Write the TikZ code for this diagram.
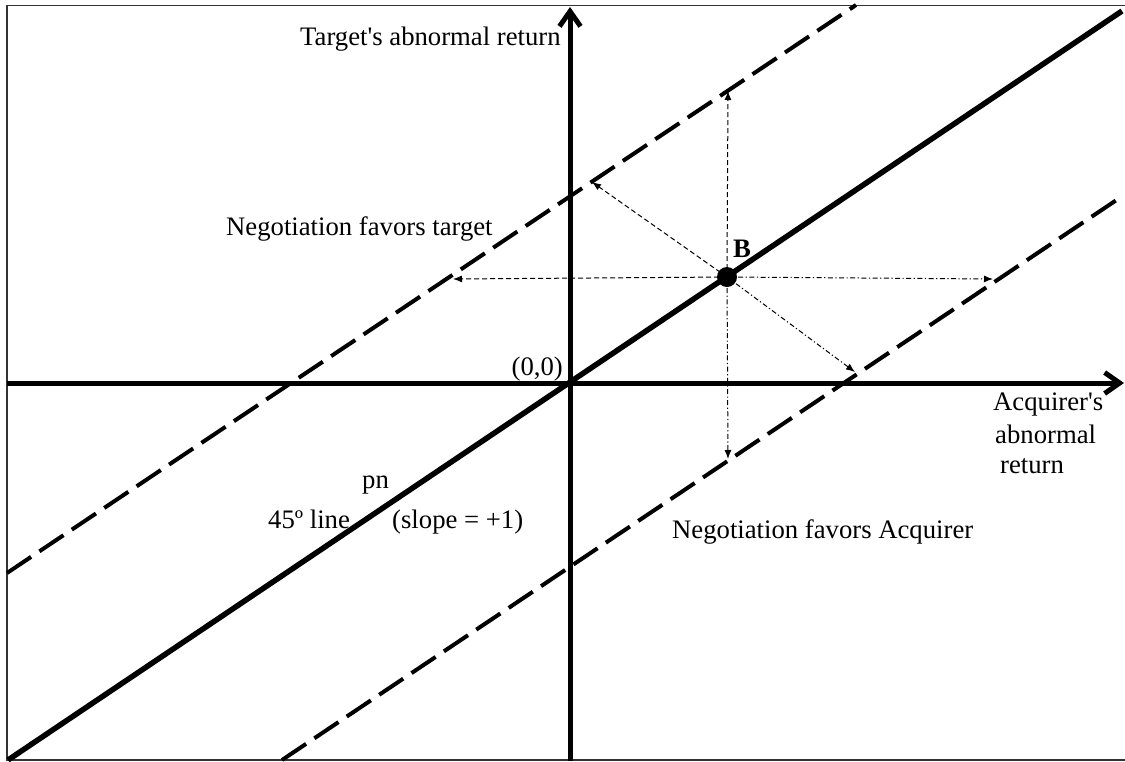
\documentclass[tikz,border=0pt]{standalone}
\usepackage{fontspec}
\setmainfont{Liberation Serif}[Ligatures=TeXOff]
\usetikzlibrary{arrows.meta}
\begin{document}
\begin{tikzpicture}[x=1pt,y=-1pt,
  frameline/.style={line width=1.6pt,draw=black!80},
  axisline/.style={line width=5pt,-{Straight Barb[length=15pt,width=21pt,line width=5pt]}},
  mainline/.style={line width=5.5pt},
  boundline/.style={line width=4pt,dash pattern=on 29pt off 10pt},
  dashedarrow/.style={line width=1pt,dash pattern=on 5pt off 3pt,-{Latex[length=9pt,width=7pt]}},
  dotdasharrow/.style={line width=1pt,dash pattern=on 5pt off 2.5pt on 1.2pt off 2.5pt,-{Latex[length=9pt,width=7pt]}},
  lbl/.style={inner sep=0pt,font=\fontsize{26.7}{32}\selectfont}
]
\useasboundingbox (0,0) rectangle (1125,761);
% frame
\coordinate (F1) at (1125,5.5);
\coordinate (F2) at (7,5.5);
\coordinate (F3) at (7,760);
\coordinate (F4) at (1125,760);
\draw[frameline] (F1) -- (F2) -- (F3) -- (F4);
% key points
\coordinate (O) at (570,383);
\coordinate (B) at (727,277);
% axes
\coordinate (YB) at (570,761);
\coordinate (YT) at (570,7);
\coordinate (XL) at (7,383);
\coordinate (XR) at (1124,383);
\draw[axisline] (YB) -- (YT);
\draw[axisline] (XL) -- (XR);
% 45 degree line
\coordinate (S1) at (8,760);
\coordinate (S2) at (1122,11);
\draw[mainline] (S1) -- (S2);
% upper bound line
\coordinate (U1) at (7,573);
\coordinate (U2) at (856,5);
\draw[boundline] (U1) -- (U2);
% lower bound line
\coordinate (L1) at (282,760);
\coordinate (L2) at (1124,195);
\draw[boundline] (L1) -- (L2);
% arrows from B
\coordinate (AU) at (728,91);
\coordinate (AD) at (728,459);
\coordinate (AL) at (453,279);
\coordinate (AR) at (993,279);
\coordinate (AUL) at (592,182);
\coordinate (ADR) at (855,372);
\draw[dashedarrow] (B) -- (AU);
\draw[dashedarrow] (B) -- (AL);
\draw[dashedarrow] (B) -- (AUL);
\draw[dotdasharrow] (B) -- (AD);
\draw[dotdasharrow] (B) -- (AR);
\draw[dotdasharrow] (B) -- (ADR);
\fill (B) circle (10);
% labels
\node[lbl,anchor=base west] (tB) at (733,257) {\textbf{B}};
\node[lbl,anchor=base west] (tT) at (300,45) {Target's abnormal return};
\node[lbl,anchor=base west] (tNT) at (226,235) {Negotiation favors target};
\node[lbl,anchor=base east] (tO) at (563,375) {(0,0)};
\node[lbl,anchor=base west] (tA1) at (993,410) {Acquirer's};
\node[lbl,anchor=base west] (tA2) at (995,443) {abnormal};
\node[lbl,anchor=base west] (tA3) at (1000,473) {return};
\node[lbl,anchor=base west] (tpn) at (362,488) {pn};
\node[lbl,anchor=base west] (t45) at (268,528) {45º line};
\node[lbl,anchor=base west] (tsl) at (392,528) {(slope = +1)};
\node[lbl,anchor=base west] (tNA) at (672,538) {Negotiation favors Acquirer};
\end{tikzpicture}
\end{document}
